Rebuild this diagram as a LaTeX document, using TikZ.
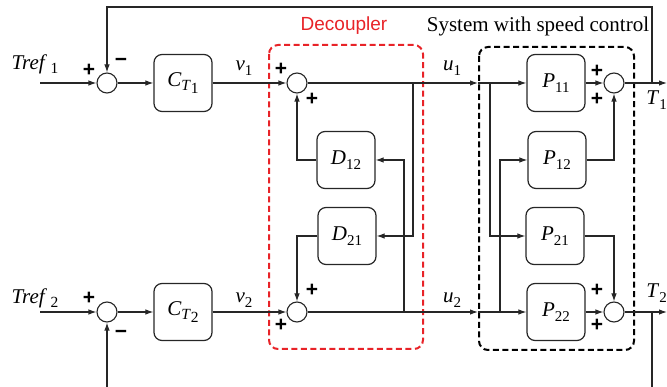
\documentclass[tikz,border=0pt]{standalone}
\usepackage{fontspec}
\setmainfont{Liberation Serif}
\newfontfamily\decfont{Liberation Sans}
\usetikzlibrary{arrows.meta}
\definecolor{decred}{RGB}{232,35,40}
\newcommand\mlab[2]{\textit{#1}\raisebox{-4.5pt}{\fontsize{15}{15}\selectfont #2}}
\newcommand\clab[1]{\textit{C}\raisebox{-4.5pt}{\fontsize{15.5}{15.5}\selectfont\textit{T}\raisebox{-2.5pt}{#1}}}
\newcommand\msign{\char"2212}
\begin{document}
\begin{tikzpicture}[x=1pt,y=-1pt,
  wire/.style={line width=1.1pt, draw=black!85},
  arr/.style={wire,-{Latex[length=8pt,width=5.5pt]}},
  sumc/.style={circle,draw=black!85,line width=1.1pt,minimum size=20pt,inner sep=0pt},
  blk/.style={draw=black!85,line width=1.2pt,rounded corners=8pt,minimum width=58pt,minimum height=57pt,inner sep=0pt,font=\fontsize{21}{23}\selectfont},
  lab/.style={font=\fontsize{21}{23}\selectfont,inner sep=0pt},
  sg/.style={font=\decfont\bfseries\fontsize{21}{21}\selectfont,inner sep=0pt},
  dbox/.style={line width=2pt,dash pattern=on 6pt off 3.5pt,rounded corners=9pt},
  ]
\clip (0,0) rectangle (667,387);
% dashed boxes
\draw[dbox,draw=decred] (269,45) rectangle (423,349);
\draw[dbox,draw=black] (479,47) rectangle (634,350);
\node[font=\decfont\fontsize{19}{20}\selectfont,text=decred,inner sep=0pt] (dtitle) at (344,26) {Decoupler};
\node[font=\fontsize{21}{24}\selectfont,inner sep=0pt] (stitle) at (538,26) {System with speed control};
% summing junctions
\node[sumc] (s1) at (107,83) {};
\node[sumc] (s2) at (107,312) {};
\node[sumc] (ds1) at (297,83) {};
\node[sumc] (ds2) at (297,312) {};
\node[sumc] (s3) at (614,83) {};
\node[sumc] (s4) at (614,312) {};
% blocks
\node[blk] (c1) at (183,83) {\clab{1}};
\node[blk] (c2) at (183,312) {\clab{2}};
\node[blk] (d12) at (346,160) {\mlab{D}{12}};
\node[blk] (d21) at (347,236) {\mlab{D}{21}};
\node[blk] (p11) at (556,83) {\mlab{P}{11}};
\node[blk] (p12) at (557,160) {\mlab{P}{12}};
\node[blk] (p21) at (555,236) {\mlab{P}{21}};
\node[blk] (p22) at (556,312) {\mlab{P}{22}};
% coordinates
\coordinate (in1) at (40,83);
\coordinate (in2) at (40,312);
\coordinate (u1a) at (478,83);
\coordinate (u2a) at (478,312);
\coordinate (o1) at (667,83);
\coordinate (o2) at (667,312);
\coordinate (f1) at (652,83);
\coordinate (f2) at (652,312);
\coordinate (b1) at (413,83);
\coordinate (b2) at (404,312);
\coordinate (q1) at (490,83);
\coordinate (q2) at (500,312);
% main paths
\draw[arr] (in1) -- (s1);
\draw[arr] (s1) -- (c1);
\draw[arr] (c1) -- (ds1);
\draw[arr] (ds1) -- (u1a);
\draw[arr] (u1a) -- (p11);
\draw[arr] (p11) -- (s3);
\draw[arr] (s3) -- (o1);
\draw[arr] (in2) -- (s2);
\draw[arr] (s2) -- (c2);
\draw[arr] (c2) -- (ds2);
\draw[arr] (ds2) -- (u2a);
\draw[arr] (u2a) -- (p22);
\draw[arr] (p22) -- (s4);
\draw[arr] (s4) -- (o2);
% feedback
\draw[arr] (f1) |- (107,7) -- (s1);
\draw[arr] (f2) |- (107,400) -- (s2);
% decoupler wiring
\draw[arr] (b1) |- (d21.east);
\draw[arr] (b2) |- (d12.east);
\draw[arr] (d12.west) -| (ds1.south);
\draw[arr] (d21.west) -| (ds2.north);
% plant wiring
\draw[arr] (q1) |- (p21.west);
\draw[arr] (q2) |- (p12.west);
\draw[arr] (p12.east) -| (s3.south);
\draw[arr] (p21.east) -| (s4.north);
% labels
\node[lab] (tr1) at (35,64) {\textit{Tref}\,\raisebox{-4.5pt}{\fontsize{15.5}{15.5}\selectfont 1}};
\node[lab] (tr2) at (35,298) {\textit{Tref}\,\raisebox{-4.5pt}{\fontsize{15.5}{15.5}\selectfont 2}};
\node[lab] (v1) at (244,68) {\mlab{v}{1}};
\node[lab] (v2) at (244,300) {\mlab{v}{2}};
\node[lab] (u1) at (452,68) {\mlab{u}{1}};
\node[lab] (u2) at (452,300) {\mlab{u}{2}};
\node[lab,anchor=east] (t1) at (667,100) {\mlab{T}{1}};
\node[lab,anchor=east] (t2) at (667,293) {\mlab{T}{2}};
% signs
\node[sg] (g1) at (89,70) {+};
\node[sg] (g2) at (121,62) {\msign};
\node[sg] (g3) at (89,298) {+};
\node[sg] (g4) at (121,334) {\msign};
\node[sg] (g5) at (281,69) {+};
\node[sg] (g6) at (312,99) {+};
\node[sg] (g7) at (312,290) {+};
\node[sg] (g8) at (281,325) {+};
\node[sg] (g9) at (597,71) {+};
\node[sg] (g10) at (597,99) {+};
\node[sg] (g11) at (597,290) {+};
\node[sg] (g12) at (597,325) {+};
\end{tikzpicture}
\end{document}
